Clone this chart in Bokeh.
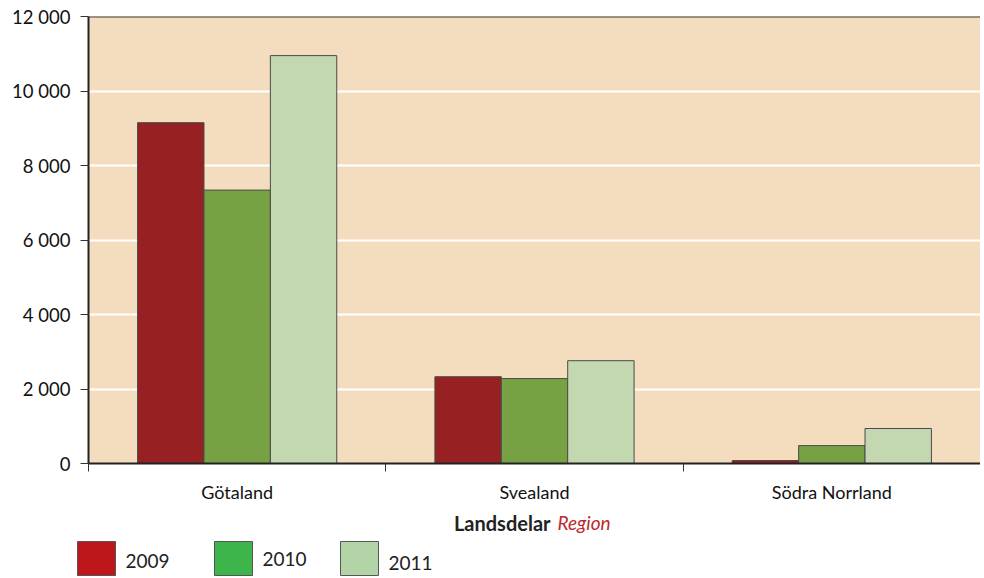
from bokeh.plotting import figure
from bokeh.layouts import column, row
from bokeh.models import ColumnDataSource, Range1d, FixedTicker, Span
from bokeh.core.properties import value
from bokeh.transform import dodge
from bokeh.embed import file_html
from bokeh.resources import INLINE

categories = ["Götaland", "Svealand", "Södra Norrland"]
years = ["2009", "2010", "2011"]
v2009 = [9150, 2330, 80]
v2010 = [7340, 2280, 480]
v2011 = [10950, 2760, 940]
y_ticks = [0, 2000, 4000, 6000, 8000, 10000, 12000]
y_tick_labels = ["0", "2 000", "4 000", "6 000", "8 000", "10 000", "12 000"]
axis_title_main = "Landsdelar"
axis_title_sub = "Region"

bar_colors = ["#962022", "#76A244", "#C3D8B0"]
legend_colors = ["#BE171B", "#3EB54A", "#B2D4A7"]
FONT = "Lato"
W = 980
LEFT = 88

centers = [i + 0.5 for i in range(len(categories))]
source = ColumnDataSource(dict(x=centers, cat=categories, y2009=v2009, y2010=v2010, y2011=v2011))

p = figure(width=W, height=505, output_backend="svg", toolbar_location=None,
           x_range=Range1d(0, len(categories)), y_range=Range1d(0, 12000),
           min_border_left=LEFT, min_border_top=16, min_border_right=0, min_border_bottom=41)
p.background_fill_color = "#F4DCBF"
p.border_fill_color = "white"
p.outline_line_color = None

bw = 0.2233
for off, col, c in zip([-bw, 0, bw], ["y2009", "y2010", "y2011"], bar_colors):
    p.vbar(x=dodge("x", off, range=p.x_range), top=col, width=bw, source=source,
           fill_color=c, line_color="#4a4a4a", line_width=1)

# top border
p.add_layout(Span(location=12000, dimension="width", line_color="#3a3a3a", line_width=2))

# grid
p.xgrid.grid_line_color = None
p.ygrid.grid_line_color = "white"
p.ygrid.grid_line_width = 2
p.ygrid.ticker = FixedTicker(ticks=y_ticks[:-1])

# y axis
p.yaxis.ticker = FixedTicker(ticks=y_ticks)
p.yaxis.major_label_overrides = {t: l for t, l in zip(y_ticks, y_tick_labels)}
p.yaxis.major_label_text_font = FONT
p.yaxis.major_label_text_font_size = "18.5px"
p.yaxis.major_label_text_color = "#111111"
p.yaxis.major_tick_out = 8
p.yaxis.major_tick_in = 0
p.yaxis.minor_tick_line_color = None
p.yaxis.axis_line_color = "#222222"
p.yaxis.axis_line_width = 2
p.yaxis.major_tick_line_color = "#333333"
p.yaxis.major_label_standoff = 10

# x axis: labels at centers, ticks at boundaries
p.xaxis.ticker = FixedTicker(ticks=centers, minor_ticks=list(range(len(categories) + 1)))
p.xaxis.major_label_overrides = {c: n for c, n in zip(centers, categories)}
p.xaxis.major_tick_out = 0
p.xaxis.major_tick_in = 0
p.xaxis.major_tick_line_color = None
p.xaxis.minor_tick_out = 8
p.xaxis.minor_tick_in = 0
p.xaxis.minor_tick_line_color = "#333333"
p.xaxis.minor_tick_line_width = 1
p.xaxis.axis_line_color = "#222222"
p.xaxis.axis_line_width = 2
p.xaxis.major_label_text_font = FONT
p.xaxis.major_label_text_font_size = "18px"
p.xaxis.major_label_text_color = "#111111"
p.xaxis.major_label_standoff = 9

# lower strip: axis title and legend (data units = page pixels)
H2 = 71
p2 = figure(width=W, height=H2, output_backend="svg", toolbar_location=None,
            x_range=Range1d(0, W), y_range=Range1d(H2, 0),
            min_border=0, x_axis_type=None, y_axis_type=None)
p2.grid.grid_line_color = None
p2.outline_line_color = None
p2.background_fill_color = "white"
p2.border_fill_color = "white"

p2.text(x=[550], y=[17], text=[axis_title_main], text_align="right", text_baseline="middle",
        text_font=value(FONT), text_font_style="bold", text_font_size="20px", text_color="#222222")
p2.text(x=[557], y=[17], text=[axis_title_sub], text_align="left", text_baseline="middle",
        text_font=value(FONT), text_font_style="italic", text_font_size="19px", text_color="#C0272D")

# legend swatches and labels
sw_left = [77, 214, 340]
lg = ColumnDataSource(dict(left=sw_left, right=[v + 38 for v in sw_left],
                           top=[36] * 3, bottom=[70] * 3, color=legend_colors,
                           tx=[v + 48 for v in sw_left], ty=[55, 53, 57], label=years))
p2.quad(left="left", right="right", top="top", bottom="bottom", fill_color="color",
        line_color="#555555", line_width=1, source=lg)
p2.text(x="tx", y="ty", text="label", text_align="left", text_baseline="middle",
        text_font=value(FONT), text_font_size="19px", text_color="#222222", source=lg)

layout = column(p, row(p2, spacing=0), spacing=0)
open("out.html", "w").write(file_html(layout, INLINE))
